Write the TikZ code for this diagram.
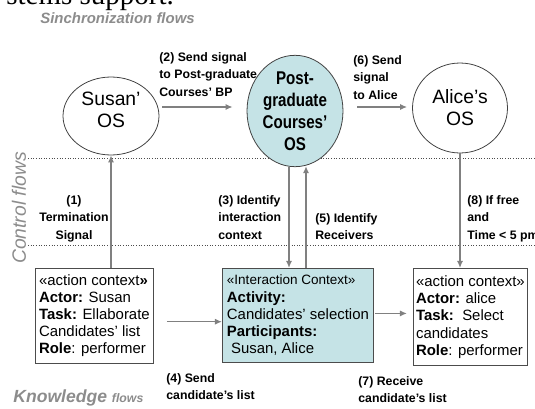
\documentclass[tikz,border=0pt]{standalone}
\usepackage{fontspec}
\setmainfont{Liberation Sans}
\newfontfamily\serifface{Liberation Serif}
\newfontfamily\narrowface[FakeStretch=0.82]{Liberation Sans}
\usepackage{tikz}
\usetikzlibrary{arrows.meta}
\usetikzlibrary{shapes.geometric}
\usetikzlibrary{positioning}
\usetikzlibrary{calc}
\definecolor{flowgray}{RGB}{128,128,128}
\definecolor{headgray}{RGB}{140,140,140}
\definecolor{ctxblue}{RGB}{197,227,230}
\tikzset{flow/.style = {draw=flowgray, line width=0.8pt,
                        -{Latex[length=4pt,width=3.5pt]}},
         sepline/.style = {draw=black!70, densely dotted, line width=0.5pt},
         osnode/.style = {ellipse, draw=black!75, line width=0.45pt, inner sep=0pt,
                          align=center, font=\fontsize{11}{12.5}\selectfont},
         ostext/.style = {inner sep=0pt, align=center, font=\fontsize{11}{12.5}\selectfont},
         ctxbox/.style = {draw=black!70, line width=0.5pt, anchor=north west, inner xsep=0pt,
                          align=left, font=\fontsize{8.5}{9.8}\selectfont},
         lbl/.style = {inner sep=0pt, anchor=north west, align=left,
                       font=\bfseries\fontsize{7}{10}\selectfont},
         flowname/.style = {inner sep=0pt, text=headgray, font=\bfseries\itshape}}

\begin{document}
\begin{tikzpicture}[x=0.02cm, y=-0.02cm]
    \path[use as bounding box, clip] (0,0) rectangle (535,409);

    \node[inner sep=0pt, anchor=base west, font=\serifface\fontsize{16.5}{18}\selectfont] (title) at (6,5) {stems support.};
    \node[flowname, anchor=base west, font=\bfseries\itshape\fontsize{8.5}{10}\selectfont] (sync) at (40,24) {Sinchronization flows};
    \node[flowname, rotate=90, font=\itshape\fontsize{11}{12}\selectfont] (ctrl) at (19,208) {Control flows};
    \node[flowname, anchor=base west, font=\bfseries\itshape\fontsize{10}{12}\selectfont] (know) at (13,402) {Knowledge {\fontsize{7}{8}\selectfont flows}};

    \draw[sepline] (28,158) -- (535,158);
    \draw[sepline] (28,245) -- (535,245);

    \node[osnode, minimum width=1.92cm, minimum height=1.56cm,
          label={[ostext, yshift=0.13cm]center:{Susan’\\OS}}] (susan) at (111,116) {};
    \node[osnode, fill=ctxblue, minimum width=1.92cm, minimum height=1.88cm,
          font=\narrowface\bfseries\fontsize{10.5}{12.5}\selectfont] (pgos) at (295,111) {Post-\\graduate\\Courses’\\OS};
    \node[osnode, minimum width=1.9cm, minimum height=1.8cm] (alice) at (460,108) {Alice’s\\OS};

    \node[ctxbox, minimum width=2.36cm, minimum height=1.84cm] (susanctx) at (35,268)
        {«action context\textbf{»}\\\textbf{Actor:} Susan\\\textbf{Task:} Ellaborate\\Candidates’ list\\\textbf{Role}: performer};
    \node[ctxbox, fill=ctxblue, minimum width=3.02cm, minimum height=1.88cm] (interctx) at (222,268)
        {{\fontsize{7.7}{9}\selectfont«Interaction Context»}\\\textbf{Activity:}\\Candidates’ selection\\\textbf{Participants:}\\\ Susan, Alice};
    \node[ctxbox, minimum width=2.28cm, minimum height=1.94cm] (alicectx) at (413,268)
        {«action context»\\\textbf{Actor:} alice\\\textbf{Task:}\ \ Select\\candidates\\\textbf{Role}: performer};

    \coordinate (down3) at ($(pgos.south)+(-6,0)$);
    \coordinate (up5) at ($(pgos.south)+(11,-1)$);
    \coordinate (send4) at ($(susanctx.east)+(13,6)$);
    \coordinate (recv7) at ($(interctx.east)+(1,-2)$);
    \coordinate (end7) at ($(alicectx.west)+(-6,0)$);

    \draw[flow] ($(susan.east)+(3,-9)$) -- ($(pgos.west)+(-14,-4)$);
    \draw[flow] ($(pgos.east)+(14,-4)$) -- ($(alice.west)+(-5,-1)$);
    \draw[flow] (susanctx.north -| susan.south) -- (susan.south);
    \draw[flow] (down3) -- (down3 |- interctx.north);
    \draw[flow] (up5 |- interctx.north) -- (up5);
    \draw[flow] (alice.south) -- (alice.south |- alicectx.north);
    \draw[flow] (send4) -- (interctx.west |- send4);
    \draw[flow] (recv7) -- (end7 |- recv7);

    \node[lbl] (l2) at (159,52) {(2) Send signal\\to Post-graduate\\Courses’ BP};
    \node[lbl] (l6) at (353,55) {(6) Send\\signal\\to Alice};
    \node[lbl, anchor=north, align=center] (l1) at (74,195) {(1)\\Termination\\Signal};
    \node[lbl] (l3) at (218,195) {(3) Identify\\interaction\\context};
    \node[lbl] (l5) at (315,213) {(5) Identify\\Receivers};
    \node[lbl] (l8) at (467,195) {(8) If free\\and\\Time < 5 pm};
    \node[lbl] (l4) at (166,373) {(4) Send\\candidate’s list};
    \node[lbl] (l7) at (358,376) {(7) Receive\\candidate’s list};
  \end{tikzpicture}
\end{document}
